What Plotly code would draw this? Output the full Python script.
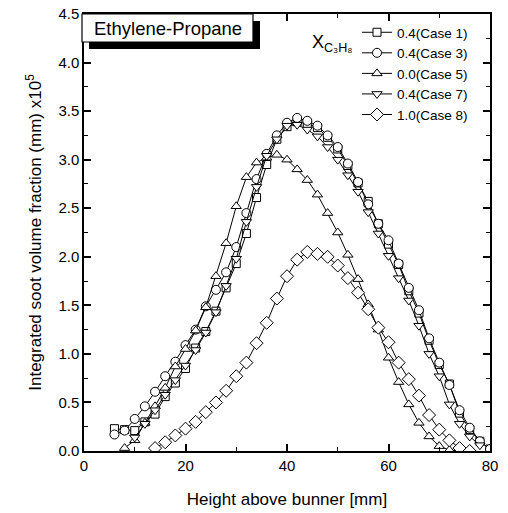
import plotly.graph_objects as go

# ---- data (height above burner [mm], integrated soot volume fraction x1e5) ----
x_case1 = [6, 8, 10, 12, 14, 16, 18, 20, 22, 24, 26, 28, 30, 32, 34, 36, 38, 40, 42, 44,
           46, 48, 50, 52, 54, 56, 58, 60, 62, 64, 66, 68, 70, 72, 74, 76, 78, 80]
y_case1 = [0.23, 0.22, 0.21, 0.30, 0.38, 0.56, 0.70, 0.85, 1.06, 1.23, 1.44, 1.68, 1.93, 2.24,
           2.61, 2.95, 3.21, 3.34, 3.39, 3.37, 3.33, 3.23, 3.11, 2.94, 2.76, 2.57, 2.34, 2.13,
           1.92, 1.65, 1.42, 1.14, 0.89, 0.69, 0.39, 0.22, 0.10, 0.02]

x_case3 = [6, 8, 10, 12, 14, 16, 18, 20, 22, 24, 26, 28, 30, 32, 34, 36, 38, 40, 42, 44,
           46, 48, 50, 52, 54, 56, 58, 60, 62, 64, 66, 68, 70, 72, 74, 76, 78, 80]
y_case3 = [0.17, 0.21, 0.33, 0.46, 0.61, 0.77, 0.92, 1.09, 1.25, 1.49, 1.66, 1.84, 2.10, 2.45,
           2.80, 3.06, 3.25, 3.38, 3.43, 3.40, 3.35, 3.25, 3.13, 2.96, 2.77, 2.54, 2.34, 2.17,
           1.93, 1.68, 1.45, 1.16, 0.91, 0.68, 0.42, 0.24, 0.10, 0.02]

x_case5 = [8, 10, 12, 14, 16, 18, 20, 22, 24, 26, 28, 30, 32, 34, 36, 38, 40, 42, 44, 46,
           48, 50, 52, 54, 56, 58, 60, 62, 64, 66, 68, 70, 72, 74, 76]
y_case5 = [0.03, 0.11, 0.29, 0.46, 0.65, 0.87, 1.05, 1.24, 1.48, 1.80, 2.14, 2.52, 2.82, 2.97,
           3.02, 3.05, 3.00, 2.90, 2.79, 2.64, 2.45, 2.25, 2.02, 1.77, 1.51, 1.25, 0.96, 0.71,
           0.48, 0.29, 0.15, 0.05, 0.01, 0.00, 0.00]

x_case7 = [10, 12, 14, 16, 18, 20, 22, 24, 26, 28, 30, 32, 34, 36, 38, 40, 42, 44, 46, 48,
           50, 52, 54, 56, 58, 60, 62, 64, 66, 68, 70, 72, 74, 76, 78]
y_case7 = [0.14, 0.28, 0.42, 0.58, 0.73, 0.88, 1.04, 1.22, 1.43, 1.70, 1.98, 2.36, 2.72, 3.04,
           3.21, 3.35, 3.36, 3.31, 3.24, 3.13, 3.00, 2.84, 2.67, 2.46, 2.24, 2.01, 1.78, 1.55,
           1.29, 1.00, 0.77, 0.48, 0.28, 0.15, 0.06]

x_case8 = [14, 16, 18, 20, 22, 24, 26, 28, 30, 32, 34, 36, 38, 40, 42, 44, 46, 48, 50, 52,
           54, 56, 58, 60, 62, 64, 66, 68, 70, 72, 74, 76]
y_case8 = [0.03, 0.09, 0.16, 0.23, 0.30, 0.40, 0.50, 0.62, 0.77, 0.91, 1.11, 1.32, 1.57, 1.80,
           1.97, 2.05, 2.03, 2.00, 1.91, 1.78, 1.63, 1.46, 1.27, 1.12, 0.91, 0.74, 0.57, 0.37,
           0.22, 0.11, 0.03, 0.00]

series_names = ["0.4(Case 1)", "0.4(Case 3)", "0.0(Case 5)", "0.4(Case 7)", "1.0(Case 8)"]
series_x = [x_case1, x_case3, x_case5, x_case7, x_case8]
series_y = [y_case1, y_case3, y_case5, y_case7, y_case8]
symbols = ["square", "circle", "triangle-up", "triangle-down", "diamond"]
sizes = [8, 9, 9, 9, 10]

x_ticks = [0, 20, 40, 60, 80]
y_ticks = [0.0, 0.5, 1.0, 1.5, 2.0, 2.5, 3.0, 3.5, 4.0, 4.5]

FONT = "Arial, Liberation Sans, Helvetica, sans-serif"

fig = go.Figure()
for name, xs, ys, sym, sz in zip(series_names, series_x, series_y, symbols, sizes):
    fig.add_trace(go.Scatter(
        x=xs, y=ys, name=name, mode="lines+markers",
        line=dict(color="black", width=1),
        marker=dict(symbol=sym, size=sz, color="white",
                    line=dict(color="black", width=1)),
    ))

W, H = 508, 513
L, R, T, B = 84, 490, 14, 451


def px(xp):
    return (xp - L) / (R - L)


def py(yp):
    return (B - yp) / (B - T)


axis_common = dict(
    showline=True, linecolor="black", linewidth=1.5, mirror="ticks",
    ticks="inside", ticklen=7, tickwidth=1.5, tickcolor="black",
    showgrid=False, zeroline=False, automargin=False,
    tickfont=dict(family=FONT, size=15, color="black"),
)

fig.update_layout(
    width=W, height=H,
    margin=dict(l=L, r=W - R, t=T, b=H - B, autoexpand=False),
    paper_bgcolor="white", plot_bgcolor="white",
    font=dict(family=FONT, color="black"),
    xaxis=dict(range=[0, 80], tickvals=x_ticks, ticktext=[str(v) for v in x_ticks],
               minor=dict(dtick=10, ticks="inside", ticklen=4, tickwidth=1.2, tickcolor="black"),
               title=dict(text="Height above bunner [mm]", font=dict(family=FONT, size=17),
                          standoff=20),
               **axis_common),
    yaxis=dict(range=[0, 4.5], tickvals=y_ticks, ticktext=[f"{v:.1f}" for v in y_ticks],
               minor=dict(dtick=0.25, ticks="inside", ticklen=4, tickwidth=1.2, tickcolor="black"),
               title=dict(text="Integrated soot volume fraction (mm) x10<sup>5</sup>",
                          font=dict(family=FONT, size=17), standoff=12),
               **axis_common),
    showlegend=True,
    legend=dict(x=px(357), y=py(17), xanchor="left", yanchor="top",
                bgcolor="rgba(0,0,0,0)", borderwidth=0,
                font=dict(family=FONT, size=13.5, color="black"),
                tracegroupgap=0, itemwidth=30),
)

# text box with drop shadow
fig.add_shape(type="rect", xref="paper", yref="paper",
              x0=px(89), x1=px(260), y0=py(49), y1=py(21),
              fillcolor="black", line=dict(width=0), layer="above")
fig.add_shape(type="rect", xref="paper", yref="paper",
              x0=px(82), x1=px(253), y0=py(42), y1=py(14),
              fillcolor="white", line=dict(color="black", width=1.2), layer="above")
fig.add_annotation(xref="paper", yref="paper", x=px(168), y=py(28),
                   text="Ethylene-Propane", showarrow=False,
                   font=dict(family=FONT, size=18.5, color="black"),
                   xanchor="center", yanchor="middle")
fig.add_annotation(xref="paper", yref="paper", x=px(310), y=py(43),
                   text="X<sub>C₃H₈</sub>", showarrow=False,
                   font=dict(family=FONT, size=18, color="black"),
                   xanchor="left", yanchor="middle")

fig.write_html("out.html",
               config={"displayModeBar": False},
               post_script="document.body.style.margin='0';"
                           "document.body.style.overflow='hidden';")
